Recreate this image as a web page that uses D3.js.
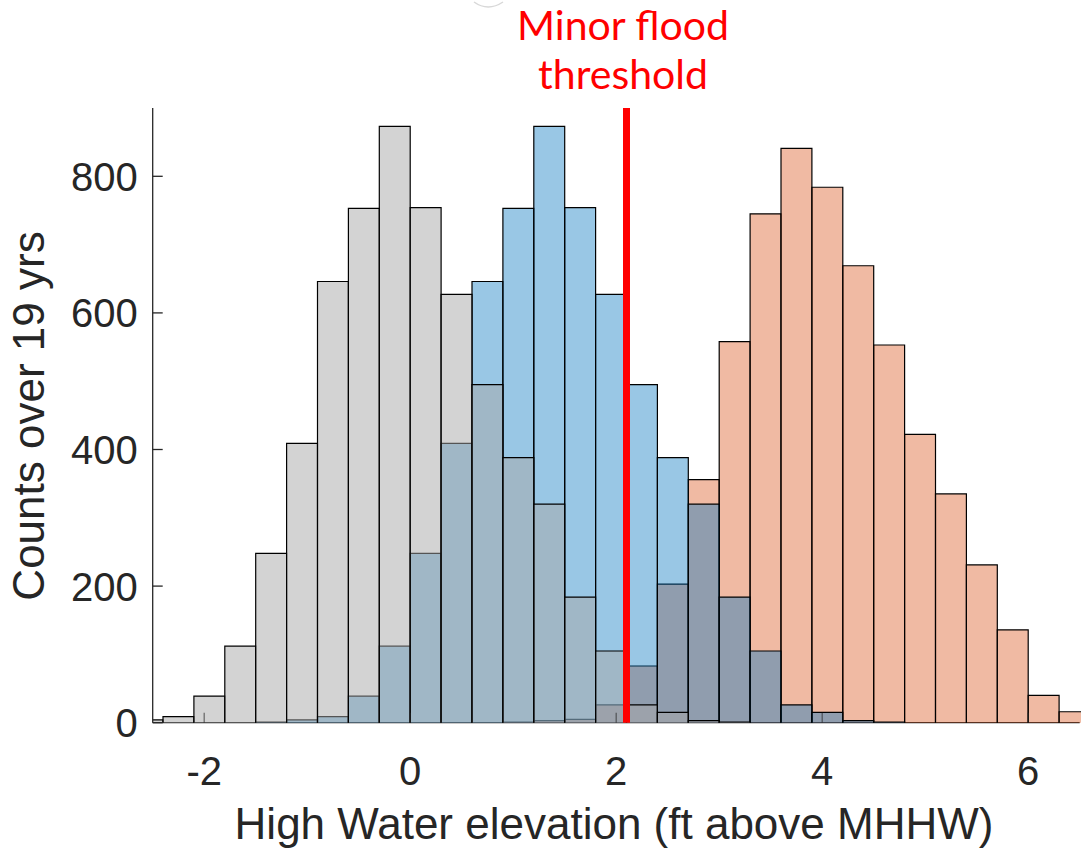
<!DOCTYPE html>
<html>
<head>
<meta charset="utf-8">
<script src="https://cdn.jsdelivr.net/npm/d3@7"></script>
<style>
  html, body { margin: 0; padding: 0; background: #fff; }
  svg { display: block; }
</style>
</head>
<body>
<div id="chart"></div>
<script>
// bin left edges (ft above MHHW), each bin 0.3 ft wide
const binStarts = [-3.0, -2.7, -2.4, -2.1, -1.8, -1.5, -1.2, -0.9, -0.6, -0.3,
                   0.0, 0.3, 0.6, 0.9, 1.2, 1.5, 1.8, 2.1, 2.4, 2.7,
                   3.0, 3.3, 3.6, 3.9, 4.2, 4.5, 4.8, 5.1, 5.4, 5.7, 6.0, 6.3];
const binWidth = 0.3;

// counts per bin
const grayCounts   = [1, 4, 9, 39, 112, 248, 409, 646, 753, 873,
                      754, 627, 495, 388, 320, 184, 105, 26, 15, 3,
                      1, 0, 0, 0, 0, 0, 0, 0, 0, 0, 0, 0];
const blueCounts   = [0, 0, 0, 0, 0, 1, 4, 9, 39, 112,
                      248, 409, 646, 753, 873, 754, 627, 495, 388, 320,
                      184, 105, 26, 15, 3, 1, 0, 0, 0, 0, 0, 0];
const salmonCounts = [0, 0, 0, 0, 0, 0, 0, 0, 0, 0,
                      0, 0, 0, 1, 3, 5, 26, 83, 203, 356,
                      558, 745, 841, 784, 669, 553, 422, 335, 231, 136, 40, 16];

const xTicks = [-2, 0, 2, 4, 6];
const yTicks = [0, 200, 400, 600, 800];
const floodThreshold = 2.1;

const width = 1081, height = 849;
const plotLeft = 152.7, plotRight = 1079.7, plotTop = 108, plotBottom = 722.7;

const svg = d3.select("#chart").append("svg")
    .attr("width", width)
    .attr("height", height);

const x = d3.scaleLinear().domain([-2.5, 6.5]).range([plotLeft, plotRight]);
const y = d3.scaleLinear().domain([0, 900]).range([plotBottom, plotTop]);

svg.append("defs").append("clipPath")
    .attr("id", "plot-clip")
    .append("rect")
    .attr("x", plotLeft)
    .attr("y", 0)
    .attr("width", width - plotLeft)
    .attr("height", plotBottom + 1);

// x axis line sits under the bars
svg.append("line")
    .attr("x1", plotLeft).attr("x2", plotRight)
    .attr("y1", plotBottom).attr("y2", plotBottom)
    .attr("stroke", "#262626")
    .attr("stroke-width", 1.3);

const plot = svg.append("g").attr("clip-path", "url(#plot-clip)");

// draw order: salmon, blue, gray on top
const series = [
    { counts: salmonCounts, fill: "#D95319", alpha: 0.4 },
    { counts: blueCounts,   fill: "#0072BD", alpha: 0.4 },
    { counts: grayCounts,   fill: "#a7a7a7", alpha: 0.5 }
];

series.forEach(s => {
    const bins = binStarts.map((b, i) => ({ x0: b, x1: b + binWidth, n: s.counts[i] }))
        .filter(d => d.n > 0);
    plot.append("g")
        .selectAll("path")
        .data(bins)
        .enter()
        .append("path")
        .attr("d", d => `M${x(d.x0)},${y(0)}V${y(d.n)}H${x(d.x1)}V${y(0)}`)
        .attr("fill", s.fill)
        .attr("fill-opacity", s.alpha)
        .attr("stroke", "#000")
        .attr("stroke-width", 1.2);
});

// y axis
svg.append("line")
    .attr("x1", plotLeft).attr("x2", plotLeft)
    .attr("y1", plotTop).attr("y2", plotBottom)
    .attr("stroke", "#262626")
    .attr("stroke-width", 1.3);

svg.append("g").selectAll("line")
    .data(yTicks)
    .enter()
    .append("line")
    .attr("x1", plotLeft).attr("x2", plotLeft + 10)
    .attr("y1", d => y(d)).attr("y2", d => y(d))
    .attr("stroke", "#262626")
    .attr("stroke-width", 1.3);

svg.append("g").selectAll("text")
    .data(yTicks)
    .enter()
    .append("text")
    .attr("x", plotLeft - 15)
    .attr("y", d => y(d))
    .attr("dy", "0.36em")
    .attr("text-anchor", "end")
    .attr("font-family", "Liberation Sans, Arial, sans-serif")
    .attr("font-size", 40)
    .attr("fill", "#262626")
    .text(d => d);

// x ticks point inward
svg.append("g").selectAll("line")
    .data(xTicks)
    .enter()
    .append("line")
    .attr("x1", d => x(d)).attr("x2", d => x(d))
    .attr("y1", plotBottom).attr("y2", plotBottom - 10)
    .attr("stroke", "#262626")
    .attr("stroke-opacity", 0.6)
    .attr("stroke-width", 1.3);

svg.append("g").selectAll("text")
    .data(xTicks)
    .enter()
    .append("text")
    .attr("x", d => x(d))
    .attr("y", 785)
    .attr("text-anchor", "middle")
    .attr("font-family", "Liberation Sans, Arial, sans-serif")
    .attr("font-size", 40)
    .attr("fill", "#262626")
    .text(d => d);

// axis titles
svg.append("text")
    .attr("x", 614)
    .attr("y", 839)
    .attr("text-anchor", "middle")
    .attr("font-family", "Liberation Sans, Arial, sans-serif")
    .attr("font-size", 44)
    .attr("fill", "#262626")
    .text("High Water elevation (ft above MHHW)");

svg.append("text")
    .attr("transform", "translate(44,416) rotate(-90)")
    .attr("text-anchor", "middle")
    .attr("font-family", "Liberation Sans, Arial, sans-serif")
    .attr("font-size", 44)
    .attr("fill", "#262626")
    .text("Counts over 19 yrs");

// minor flood threshold
svg.append("line")
    .attr("x1", x(floodThreshold)).attr("x2", x(floodThreshold))
    .attr("y1", plotTop).attr("y2", plotBottom)
    .attr("stroke", "#ff0000")
    .attr("stroke-width", 7);

const label = svg.append("text")
    .attr("text-anchor", "middle")
    .attr("font-family", "Lato, sans-serif")
    .attr("font-size", 41)
    .attr("fill", "#ff0000");
label.append("tspan").attr("x", 623).attr("y", 40).text("Minor flood");
label.append("tspan").attr("x", 623).attr("y", 89).text("threshold");

// faint cropped mark above the label
svg.append("path")
    .attr("d", "M474,2 Q488,12 503,2")
    .attr("fill", "none")
    .attr("stroke", "#d8d8d8")
    .attr("stroke-width", 1.5);
</script>
</body>
</html>
